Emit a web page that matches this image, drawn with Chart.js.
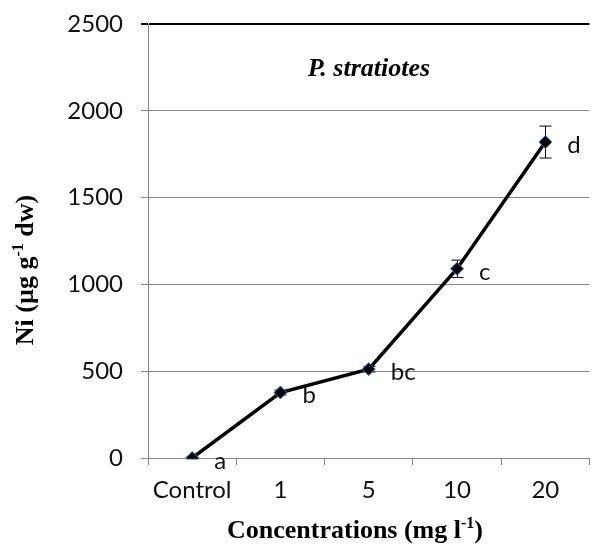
<!DOCTYPE html>
<html>
<head>
<meta charset="utf-8">
<script src="https://cdn.jsdelivr.net/npm/chart.js@4"></script>
<style>
    html, body { margin: 0; padding: 0; background: #fff; overflow: hidden; }
    #wrap { position: absolute; left: 0; top: 0; width: 597px; height: 545px; }
</style>
</head>
<body>
<div id="wrap"><canvas id="chart"></canvas></div>
<script>
// values
const categories = ['Control', '1', '5', '10', '20']
const niMeans = [0, 377, 512, 1090, 1820]
const niErrors = [5, 14, 16, 50, 92]
const sigLetters = ['a', 'b', 'bc', 'c', 'd']
const yMin = 0
const yMax = 2500
const yStep = 500

const tickFont = { family: 'Lato', size: 24 }
const serif = 'Liberation Serif'

// draw text with a raised "-1" part, runs = [[text, isSup], ...]
function drawRuns(ctx, runs, x, y, size) {
    let total = 0
    runs.forEach(r => {
        ctx.font = `bold ${r[1] ? Math.round(size * 0.62) : size}px "${serif}"`
        total += ctx.measureText(r[0]).width
    })
    let cx = x - total / 2
    ctx.textAlign = 'left'
    runs.forEach(r => {
        const s = r[1] ? Math.round(size * 0.62) : size
        ctx.font = `bold ${s}px "${serif}"`
        ctx.fillText(r[0], cx, r[1] ? y - size * 0.38 : y)
        cx += ctx.measureText(r[0]).width
    })
}

const extras = {
    id: 'extras',
    beforeDatasetsDraw(chart) {
        // error bars under the line
        const ctx = chart.ctx
        const xs = chart.scales.x, ys = chart.scales.y
        ctx.save()
        ctx.strokeStyle = '#000'
        ctx.lineWidth = 1
        niMeans.forEach((v, i) => {
            const px = Math.round(xs.getPixelForValue(i)) + 0.5
            const top = ys.getPixelForValue(v + niErrors[i])
            const bot = ys.getPixelForValue(v - niErrors[i])
            ctx.beginPath()
            ctx.moveTo(px, top); ctx.lineTo(px, bot)
            ctx.moveTo(px - 6, top); ctx.lineTo(px + 6, top)
            ctx.moveTo(px - 6, bot); ctx.lineTo(px + 6, bot)
            ctx.stroke()
        })
        ctx.restore()
    },
    afterDatasetsDraw(chart) {
        const ctx = chart.ctx
        const xs = chart.scales.x, ys = chart.scales.y
        ctx.save()
        ctx.fillStyle = '#111'
        ctx.font = `${tickFont.size}px ${tickFont.family}`
        ctx.textAlign = 'left'
        ctx.textBaseline = 'middle'
        sigLetters.forEach((t, i) => {
            ctx.fillText(t, xs.getPixelForValue(i) + 22, ys.getPixelForValue(niMeans[i]) + 3)
        })

        ctx.fillStyle = '#000'
        ctx.textBaseline = 'alphabetic'
        ctx.textAlign = 'center'
        ctx.font = `italic bold 26px "${serif}"`
        ctx.fillText('P. stratiotes', 369, 76)

        drawRuns(ctx, [['Concentrations (mg l', false], ['-1', true], [')', false]], 355, 538, 26)

        ctx.translate(33, 270)
        ctx.rotate(-Math.PI / 2)
        drawRuns(ctx, [['Ni (\u00b5g g', false], ['-1', true], [' dw)', false]], 0, 0, 26)
        ctx.restore()
    }
}

new Chart(document.getElementById('chart'), {
    type: 'line',
    data: {
        labels: categories,
        datasets: [{
            data: niMeans,
            borderColor: '#000',
            borderWidth: 3.5,
            pointStyle: 'rectRot',
            pointRadius: 6.5,
            pointBackgroundColor: '#000',
            pointBorderColor: '#4472c4',
            pointBorderWidth: 1,
            tension: 0
        }]
    },
    options: {
        responsive: true,
        maintainAspectRatio: false,
        animation: false,
        layout: { padding: { top: 24, left: 0, right: 0, bottom: 0 } },
        plugins: { legend: { display: false }, tooltip: { enabled: false } },
        scales: {
            x: {
                offset: true,
                afterFit: s => { s.height = 87; s.paddingLeft = 0; s.paddingRight = 0 },
                grid: { offset: true, drawOnChartArea: false, drawTicks: true, tickLength: 7, color: '#868686' },
                border: { color: '#868686', width: 1 },
                ticks: { font: tickFont, color: '#111', padding: 11, maxRotation: 0 }
            },
            y: {
                min: yMin,
                max: yMax,
                afterFit: s => { s.width = 148; s.paddingTop = 0; s.paddingBottom = 0 },
                grid: {
                    tickLength: 7,
                    color: c => c.tick && c.tick.value === yMax ? '#000' : '#868686',
                    lineWidth: c => c.tick && c.tick.value === yMax ? 2 : 1
                },
                border: { color: '#868686', width: 1 },
                ticks: { stepSize: yStep, font: tickFont, color: '#111', padding: 18, callback: v => String(v) }
            }
        }
    },
    plugins: [extras]
})
</script>
</body>
</html>
